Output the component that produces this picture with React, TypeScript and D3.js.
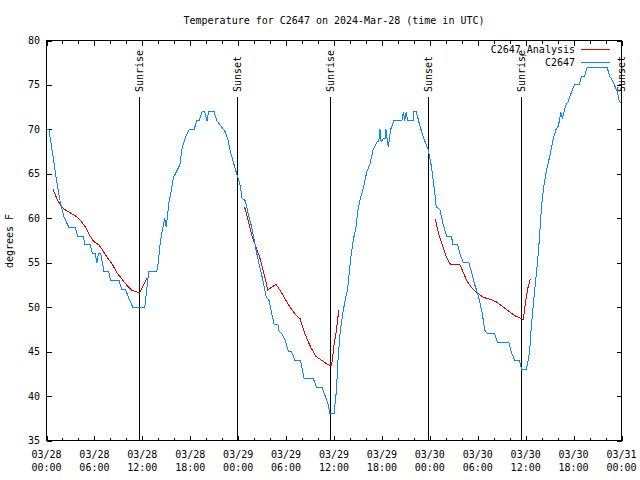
import React from "react";
import * as d3 from "d3";

// ---- data (hours since 2024-03-28 00:00 UTC) ----
const obsHours = [0, 0.3, 0.9, 1.25, 1.75, 2.2, 2.8, 3.6, 3.9, 4.6, 4.8, 5.5, 5.75, 6.1, 6.3, 6.5, 6.8, 7.2, 7.8, 8.0, 9.1, 9.4, 9.9, 10.3, 10.8, 12.3, 12.8, 13.8, 14.0, 14.25, 14.5, 14.8, 15.0, 15.3, 15.6, 15.9, 16.25, 16.7, 17.0, 17.5, 17.9, 18.5, 18.8, 19.1, 19.5, 19.8, 20.1, 20.3, 21.0, 21.3, 22.0, 22.4, 22.7, 23.0, 23.4, 23.75, 24.2, 24.5, 24.9, 25.3, 25.7, 26.1, 26.5, 27.0, 27.5, 27.9, 28.2, 28.5, 29.0, 29.1, 29.5, 29.9, 30.3, 30.7, 31.1, 31.8, 32.25, 33.4, 33.8, 34.5, 34.9, 35.2, 35.5, 36.0, 36.3, 36.5, 36.75, 37.1, 37.4, 37.7, 37.9, 38.1, 38.4, 38.75, 39.0, 39.3, 39.7, 40.1, 40.5, 40.9, 41.4, 41.6, 41.75, 41.9, 42.2, 42.4, 42.5, 42.65, 42.8, 43.1, 43.5, 44.5, 44.7, 44.85, 45.05, 45.2, 45.9, 46.0, 46.3, 46.75, 47.2, 47.8, 48.2, 48.6, 48.8, 49.25, 49.7, 50.1, 50.7, 50.9, 51.5, 51.75, 52.2, 52.9, 53.2, 53.6, 54.0, 54.5, 54.9, 55.2, 56.1, 56.5, 57.9, 58.2, 58.6, 59.2, 59.5, 60.1, 60.5, 60.7, 61.0, 61.25, 61.5, 61.7, 62.0, 62.25, 62.6, 63.0, 63.4, 63.8, 64.1, 64.4, 64.6, 65.0, 65.3, 65.7, 66.1, 66.7, 67.0, 67.4, 67.7, 70.2, 70.5, 70.8, 71.1, 71.5, 71.7, 71.9];
const obsTemps = [70, 70, 66.5, 64.3, 61.7, 60.1, 59, 59, 58, 58, 57, 57, 56, 56, 55, 56, 56, 54, 54, 53, 53, 52, 52, 51, 50, 50, 54, 54, 55, 57.3, 58.6, 60, 59, 61.6, 63, 64.6, 65.2, 66, 68, 69.3, 70, 70, 71, 71, 72, 72, 71, 72, 72, 71, 70.2, 69.7, 68.9, 67.6, 66.3, 65.2, 63.9, 62.2, 62, 60.3, 59, 57.1, 55.3, 53.4, 51.2, 50.7, 49.3, 48.1, 48, 47.3, 47, 46.2, 45, 45, 44, 44, 42, 42, 41, 41, 40, 39.3, 38, 38, 40.6, 44, 47, 49.3, 50.8, 52, 53.8, 55.6, 57.5, 59, 60.9, 62.2, 63.5, 65.2, 66.1, 67.7, 68.6, 68.6, 70, 68.6, 69, 69, 70, 69, 68, 70, 71, 71, 72, 71, 72, 71, 71, 72, 72, 70.4, 69.1, 67.7, 65.8, 63, 61.3, 61, 59.2, 58, 58, 57, 57, 56, 55, 55, 54, 52.6, 51.5, 49.6, 47.4, 47, 47, 46, 46, 45, 44, 44, 43, 43, 45, 47.7, 50.7, 53, 55.2, 57.5, 61.5, 63.5, 65.4, 66.9, 68.75, 70, 70.4, 71.9, 71.2, 72.7, 73.1, 74.1, 75, 75, 76, 76, 77, 77, 76, 75.6, 75, 74.2, 73.2, 73];

// analysis series, NaN separates segments
const anaHours = [0.8, 1.3, 1.8, 2.4, 3.0, 3.6, 4.25, 4.9, 5.3, 5.9, 6.5, 7.0, 7.6, 8.2, 8.8, 9.5, 10.1, 10.7, 11.3, 11.7, 12.6, NaN,
  24.8, 25.3, 25.7, 26.1, 26.7, 27.2, 27.7, 28.2, 28.75, 29.25, 29.9, 30.5, 31.1, 31.75, 32.2, 32.7, 33.2, 33.75, 34.5, 35.1, 35.7, 36.0, 36.3, 36.6, NaN,
  48.7, 49.0, 49.3, 49.7, 50.1, 50.6, 51.75, 52.2, 52.6, 53.2, 53.8, 54.7, 55.5, 56.3, 57.2, 57.9, 58.6, 59.25, 59.7, 60.0, 60.3, 60.6];
const anaTemps = [63.3, 62.2, 61.4, 60.9, 60.6, 60.3, 59.75, 59, 58.25, 57.4, 57.05, 56.45, 55.6, 54.9, 53.9, 53.1, 52.4, 51.9, 51.7, 51.7, 53.3, NaN,
  61.3, 59.6, 58.06, 57.1, 55.6, 53.9, 51.95, 52.25, 52.55, 51.9, 50.9, 50.0, 49.25, 48.7, 47.4, 46.25, 45.3, 44.45, 44.0, 43.6, 43.4, 45.7, 47.4, 49.7, NaN,
  59.9, 58.6, 57.7, 56.6, 55.6, 54.8, 54.8, 53.9, 53.0, 52.25, 51.7, 51.1, 50.9, 50.6, 50.0, 49.55, 49.06, 48.8, 48.6, 50.75, 52.25, 53.2];

const sunHours = [11.52, 23.8, 35.55, 47.8, 59.45, 71.9];
const sunLabels = ["Sunrise", "Sunset", "Sunrise", "Sunset", "Sunrise", "Sunset"];

const xTickHours = [0, 6, 12, 18, 24, 30, 36, 42, 48, 54, 60, 66, 72];
const xTickDates = ["03/28", "03/28", "03/28", "03/28", "03/29", "03/29", "03/29", "03/29", "03/30", "03/30", "03/30", "03/30", "03/31"];
const xTickTimes = ["00:00", "06:00", "12:00", "18:00", "00:00", "06:00", "12:00", "18:00", "00:00", "06:00", "12:00", "18:00", "00:00"];
const xMinorHours = d3.range(0, 73, 2);
const yTicks = [35, 40, 45, 50, 55, 60, 65, 70, 75, 80];

const TITLE = "Temperature for C2647 on 2024-Mar-28 (time in UTC)";
const Y_LABEL = "degrees F";
const SERIES_NAMES = ["C2647_Analysis", "C2647"];
const COLORS = ["#e00000", "#0a84ff"];

const FONT = "'DejaVu Sans Mono', monospace";

export default function App() {
  const L = 46.5, R = 621.5, T = 40.5, B = 440.5;
  const x = d3.scaleLinear().domain([0, 72]).range([L, R]);
  const y = d3.scaleLinear().domain([35, 80]).range([B, T]);

  const obsLine = d3.line<number>()
    .x((_, i) => x(obsHours[i]))
    .y((_, i) => y(obsTemps[i]));
  const anaLine = d3.line<number>()
    .defined((_, i) => !isNaN(anaHours[i]))
    .x((_, i) => x(anaHours[i]))
    .y((_, i) => y(anaTemps[i]));

  const obsPath = obsLine(obsHours) || "";
  const anaPath = anaLine(anaHours) || "";

  return (
    <svg width={640} height={480} style={{ position: "absolute", left: 0, top: 0, background: "#fff" }}
      fontFamily={FONT} fontSize={10}>
      <rect x={0} y={0} width={640} height={480} fill="#fff" />
      <text x={(L + R) / 2} y={24} textAnchor="middle">{TITLE}</text>

      {/* minor x ticks */}
      {xMinorHours.map((h) => (
        <g key={"m" + h} stroke="#000" shapeRendering="crispEdges">
          <line x1={Math.round(x(h)) + 0.5} x2={Math.round(x(h)) + 0.5} y1={B} y2={B - 3} />
          <line x1={Math.round(x(h)) + 0.5} x2={Math.round(x(h)) + 0.5} y1={T} y2={T + 3} />
        </g>
      ))}
      {xTickHours.map((h, i) => (
        <g key={"x" + h}>
          <line x1={Math.round(x(h)) + 0.5} x2={Math.round(x(h)) + 0.5} y1={B} y2={B - 5} stroke="#000" shapeRendering="crispEdges" />
          <line x1={Math.round(x(h)) + 0.5} x2={Math.round(x(h)) + 0.5} y1={T} y2={T + 5} stroke="#000" shapeRendering="crispEdges" />
          <text x={x(h)} y={458} textAnchor="middle">{xTickDates[i]}</text>
          <text x={x(h)} y={471} textAnchor="middle">{xTickTimes[i]}</text>
        </g>
      ))}
      {yTicks.map((v) => (
        <g key={"y" + v}>
          <line x1={L} x2={L + 5} y1={Math.round(y(v)) + 0.5} y2={Math.round(y(v)) + 0.5} stroke="#000" shapeRendering="crispEdges" />
          <line x1={R} x2={R - 5} y1={Math.round(y(v)) + 0.5} y2={Math.round(y(v)) + 0.5} stroke="#000" shapeRendering="crispEdges" />
          <text x={40} y={y(v) + 3.5} textAnchor="end">{v}</text>
        </g>
      ))}
      <text transform={`translate(13,241) rotate(-90)`} textAnchor="middle">{Y_LABEL}</text>

      {/* sunrise / sunset */}
      {sunHours.map((h, i) => (
        <g key={"s" + i}>
          <line x1={Math.round(x(h)) + 0.5} x2={Math.round(x(h)) + 0.5} y1={97} y2={B} stroke="#000" shapeRendering="crispEdges" />
          <text transform={`translate(${Math.round(x(h)) + 4},92) rotate(-90)`} textAnchor="start">{sunLabels[i]}</text>
        </g>
      ))}

      <path d={anaPath} fill="none" stroke={COLORS[0]} strokeWidth={1} shapeRendering="crispEdges" />
      <path d={obsPath} fill="none" stroke={COLORS[1]} strokeWidth={1} shapeRendering="crispEdges" />

      <rect x={L} y={T} width={R - L} height={B - T} fill="none" stroke="#000" shapeRendering="crispEdges" />

      {/* legend */}
      {SERIES_NAMES.map((name, i) => (
        <g key={name}>
          <text x={575} y={52.5 + i * 13.5} textAnchor="end">{name}</text>
          <line x1={581} x2={610} y1={49.5 + i * 13} y2={49.5 + i * 13} stroke={COLORS[i]} shapeRendering="crispEdges" />
        </g>
      ))}
    </svg>
  );
}
